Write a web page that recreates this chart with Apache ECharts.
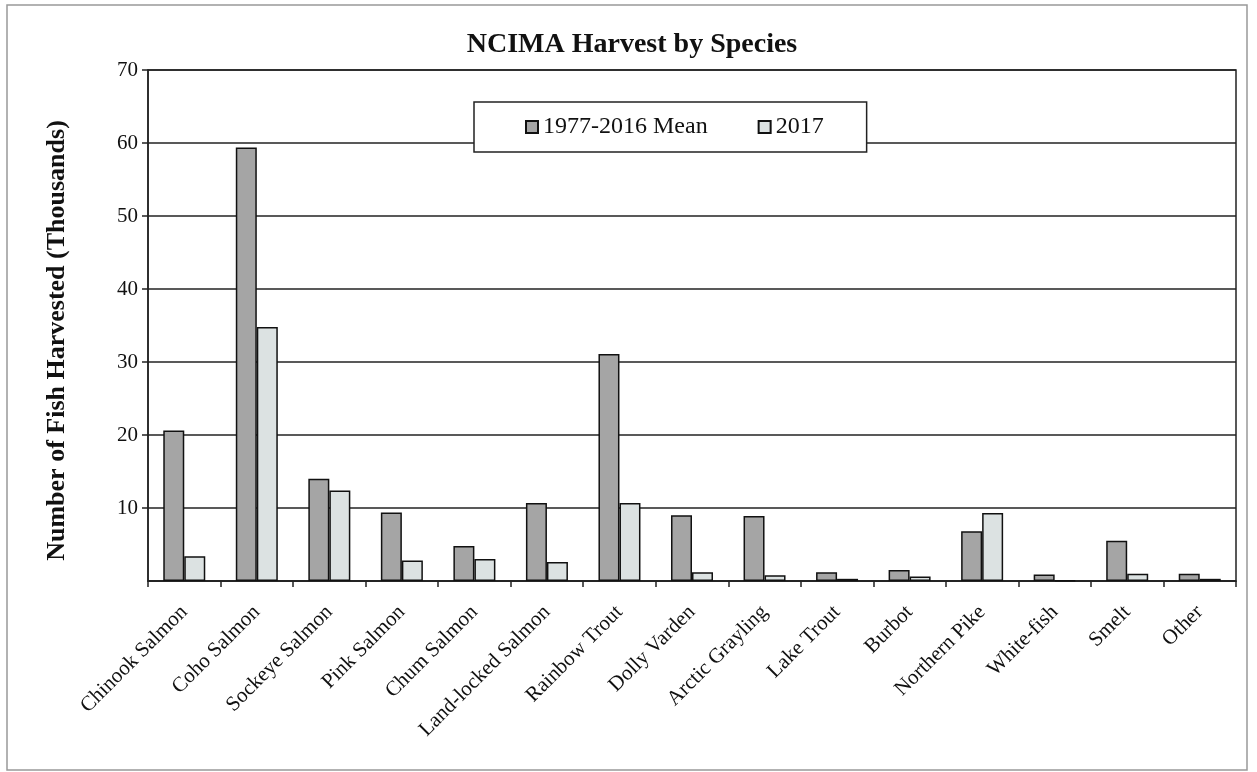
<!DOCTYPE html>
<html>
<head>
<meta charset="utf-8">
<script src="https://cdn.jsdelivr.net/npm/echarts@6/dist/echarts.min.js"></script>
<style>html,body{margin:0;padding:0;background:#fff}#c{width:1257px;height:772px}</style>
</head>
<body>
<div id="c"></div>
<script>
const categories = ["Chinook Salmon","Coho Salmon","Sockeye Salmon","Pink Salmon","Chum Salmon","Land-locked Salmon","Rainbow Trout","Dolly Varden","Arctic Grayling","Lake Trout","Burbot","Northern Pike","White-fish","Smelt","Other"];
const meanValues = [20.6, 59.4, 14.0, 9.4, 4.8, 10.7, 31.1, 9.0, 8.9, 1.2, 1.5, 6.8, 0.9, 5.5, 1.0];
const values2017 = [3.4, 34.8, 12.4, 2.8, 3.0, 2.6, 10.7, 1.2, 0.8, 0.3, 0.6, 9.3, 0.1, 1.0, 0.3];
const seriesNames = ["1977-2016 Mean", "2017"];
const yTicks = {min: 0, max: 70, interval: 10};

const serif = "Liberation Serif";
const chart = echarts.init(document.getElementById('c'));
chart.setOption({
  backgroundColor: '#fff',
  animation: false,
  title: {
    text: 'NCIMA Harvest by Species',
    left: 627, top: 26, textAlign: 'center',
    textStyle: {fontFamily: serif, fontWeight: 'bold', fontSize: 28, color: '#111'}
  },
  graphic: [{
    type: 'rect', shape: {x: 7, y: 5, width: 1240, height: 765},
    style: {fill: 'none', stroke: '#999', lineWidth: 1.5}, silent: true
  }],
  legend: {
    left: 474, top: 102,
    orient: 'horizontal',
    padding: [13, 43, 13, 51],
    itemGap: 50,
    itemWidth: 12, itemHeight: 12,
    icon: 'rect',
    backgroundColor: '#fff',
    borderColor: '#222', borderWidth: 1.5,
    textStyle: {fontFamily: serif, fontSize: 24, color: '#111'},
    data: seriesNames
  },
  grid: {left: 148, right: 21, top: 70, bottom: 191, show: true, borderColor: '#222', borderWidth: 1.5, backgroundColor: 'transparent'},
  xAxis: {
    type: 'category',
    data: categories,
    axisLine: {lineStyle: {color: '#222', width: 1.5}},
    axisTick: {show: true, length: 6, lineStyle: {color: '#222', width: 1.5}},
    axisLabel: {rotate: 45, interval: 0, margin: 28, fontFamily: serif, fontSize: 21, color: '#111'}
  },
  yAxis: {
    type: 'value',
    min: yTicks.min, max: yTicks.max, interval: yTicks.interval,
    name: 'Number of Fish Harvested (Thousands)',
    nameLocation: 'middle', nameGap: 78,
    nameTextStyle: {fontFamily: serif, fontWeight: 'bold', fontSize: 26, color: '#111', padding: [0, 30, 0, 0]},
    axisLine: {show: true, lineStyle: {color: '#222', width: 1.5}},
    axisTick: {show: true, length: 6, lineStyle: {color: '#222', width: 1.5}},
    axisLabel: {showMinLabel: false, margin: 10, fontFamily: serif, fontSize: 21, color: '#111'},
    splitLine: {lineStyle: {color: '#222', width: 1.5}}
  },
  series: [
    {name: seriesNames[0], type: 'bar', data: meanValues, barWidth: 21, barGap: '0%',
     itemStyle: {color: '#a5a5a5', borderColor: '#111', borderWidth: 1.5}},
    {name: seriesNames[1], type: 'bar', data: values2017, barWidth: 21, barGap: '0%',
     itemStyle: {color: '#dce2e2', borderColor: '#111', borderWidth: 1.5}}
  ]
});
</script>
</body>
</html>
